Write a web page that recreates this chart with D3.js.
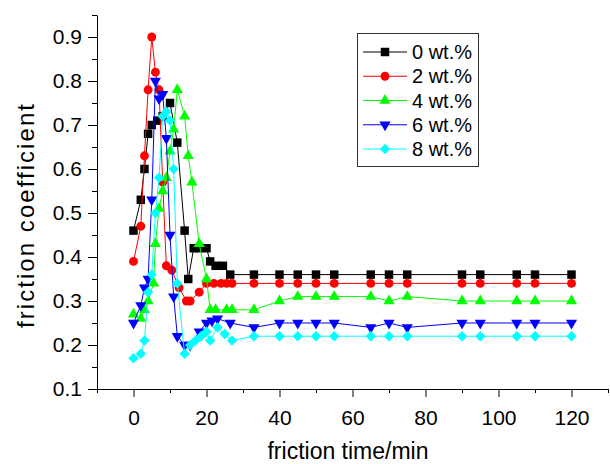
<!DOCTYPE html>
<html>
<head>
<meta charset="utf-8">
<script src="https://cdn.jsdelivr.net/npm/d3@7"></script>
<style>
  body { margin: 0; background: #fff; }
  svg text { font-family: "Liberation Sans", Arial, Helvetica, sans-serif; fill: #000; }
</style>
</head>
<body>
<script>
// values (time in min, friction coefficient)
const time0 = [0, 2, 3, 4, 5, 6.5, 8, 10, 12, 14, 15, 16.5, 18, 20, 21, 22.5, 24.5, 26.5, 33, 40, 45, 50, 55, 65, 70, 75, 90, 95, 105, 110, 120]
const cof0 = [0.46, 0.53, 0.60, 0.68, 0.70, 0.71, 0.72, 0.75, 0.66, 0.46, 0.35, 0.42, 0.42, 0.42, 0.39, 0.38, 0.38, 0.36, 0.36, 0.36, 0.36, 0.36, 0.36, 0.36, 0.36, 0.36, 0.36, 0.36, 0.36, 0.36, 0.36]

const time2 = [0, 2, 3, 4, 5, 6, 7, 8, 9, 10.5, 12.5, 14.5, 15.5, 18, 20, 22, 24, 25.5, 27, 33, 40, 45, 50, 55, 65, 70, 75, 90, 95, 105, 110, 120]
const cof2 = [0.39, 0.47, 0.63, 0.78, 0.90, 0.82, 0.78, 0.57, 0.38, 0.37, 0.33, 0.30, 0.30, 0.32, 0.34, 0.34, 0.34, 0.34, 0.34, 0.34, 0.34, 0.34, 0.34, 0.34, 0.34, 0.34, 0.34, 0.34, 0.34, 0.34, 0.34, 0.34]

const time4 = [0, 2, 3, 4, 5.5, 6, 7, 8, 9, 10, 11, 12, 14, 15, 16, 18, 20, 21, 22.5, 25.5, 27, 33, 40, 45, 50, 55, 65, 70, 75, 90, 95, 105, 110, 120]
const cof4 = [0.27, 0.26, 0.28, 0.30, 0.34, 0.43, 0.51, 0.55, 0.58, 0.64, 0.69, 0.78, 0.72, 0.63, 0.57, 0.43, 0.35, 0.28, 0.28, 0.28, 0.28, 0.28, 0.30, 0.31, 0.31, 0.31, 0.31, 0.30, 0.31, 0.30, 0.30, 0.30, 0.30, 0.30]

const time6 = [0, 2, 3, 4, 5, 6, 7, 8, 9, 10, 11, 12, 14, 15.5, 18, 20, 21.5, 23, 26.5, 33, 40, 45, 50, 55, 65, 70, 75, 90, 95, 105, 110, 120]
const cof6 = [0.25, 0.29, 0.33, 0.35, 0.53, 0.80, 0.76, 0.77, 0.67, 0.45, 0.31, 0.22, 0.20, 0.20, 0.23, 0.25, 0.255, 0.26, 0.25, 0.24, 0.25, 0.25, 0.25, 0.25, 0.24, 0.25, 0.24, 0.25, 0.25, 0.25, 0.25, 0.25]

const time8 = [0, 2, 3, 4, 5, 6, 7, 8, 9, 10, 11, 12, 14, 15.5, 17, 18.5, 20, 21, 23, 25, 27, 33, 40, 45, 50, 55, 65, 70, 75, 90, 95, 105, 110, 120]
const cof8 = [0.17, 0.18, 0.21, 0.32, 0.36, 0.50, 0.58, 0.72, 0.73, 0.71, 0.60, 0.34, 0.18, 0.20, 0.21, 0.22, 0.23, 0.21, 0.24, 0.225, 0.21, 0.22, 0.22, 0.22, 0.22, 0.22, 0.22, 0.22, 0.22, 0.22, 0.22, 0.22, 0.22, 0.22]

const seriesNames = ['0 wt.%', '2 wt.%', '4 wt.%', '6 wt.%', '8 wt.%']
const seriesColors = ['#000000', '#ff0000', '#00ff00', '#0000ff', '#00ffff']

const xMajor = [0, 20, 40, 60, 80, 100, 120]
const xMinor = [-10, 10, 30, 50, 70, 90, 110, 130]
const yMajor = [0.1, 0.2, 0.3, 0.4, 0.5, 0.6, 0.7, 0.8, 0.9]
const yMinor = [0.15, 0.25, 0.35, 0.45, 0.55, 0.65, 0.75, 0.85, 0.95]

const w = 610
const h = 464

const series = [
  { name: seriesNames[0], color: seriesColors[0], shape: 'square', pts: time0.map((t, i) => ({ t, v: cof0[i] })) },
  { name: seriesNames[1], color: seriesColors[1], shape: 'circle', pts: time2.map((t, i) => ({ t, v: cof2[i] })) },
  { name: seriesNames[2], color: seriesColors[2], shape: 'up', pts: time4.map((t, i) => ({ t, v: cof4[i] })) },
  { name: seriesNames[3], color: seriesColors[3], shape: 'down', pts: time6.map((t, i) => ({ t, v: cof6[i] })) },
  { name: seriesNames[4], color: seriesColors[4], shape: 'diamond', pts: time8.map((t, i) => ({ t, v: cof8[i] })) }
]

const svg = d3.select('body').append('svg')
  .attr('width', w)
  .attr('height', h)

const xScale = d3.scaleLinear().domain([-10, 130]).range([97, 608])
const yScale = d3.scaleLinear().domain([0.1, 0.95]).range([389, 15])

// symbol path + rotation for each marker shape
function markerPath (shape) {
  if (shape === 'square') return d3.symbol(d3.symbolSquare, 72)()
  if (shape === 'circle') return d3.symbol(d3.symbolCircle, 62)()
  if (shape === 'diamond') return d3.symbol(d3.symbolSquare, 54)()
  return d3.symbol(d3.symbolTriangle, 54)()
}
function markerRotate (shape) {
  if (shape === 'down') return ' rotate(180)'
  if (shape === 'diamond') return ' rotate(45)'
  return ''
}

// y axis
const yAxis = d3.axisLeft(yScale)
  .tickValues(yMajor)
  .tickFormat(d3.format('.1f'))
  .tickSize(9)
  .tickSizeOuter(0)
  .tickPadding(6)

const gy = svg.append('g')
  .attr('class', 'y-axis')
  .attr('transform', 'translate(' + xScale(-10) + ', 0)')
  .call(yAxis)

gy.selectAll('.minor')
  .data(yMinor)
  .enter().append('line')
  .attr('class', 'minor')
  .attr('x1', -5)
  .attr('x2', 0)
  .attr('y1', d => Math.round(yScale(d)) + 0.5)
  .attr('y2', d => Math.round(yScale(d)) + 0.5)
  .attr('stroke', '#000')

// x axis
const xAxis = d3.axisBottom(xScale)
  .tickValues(xMajor)
  .tickSize(8)
  .tickSizeOuter(0)
  .tickPadding(13)

const gx = svg.append('g')
  .attr('class', 'x-axis')
  .attr('transform', 'translate(0, ' + yScale(0.1) + ')')
  .call(xAxis)

gx.selectAll('.minor')
  .data(xMinor)
  .enter().append('line')
  .attr('class', 'minor')
  .attr('x1', d => Math.round(xScale(d)) + 0.5)
  .attr('x2', d => Math.round(xScale(d)) + 0.5)
  .attr('y1', 0)
  .attr('y2', 4)
  .attr('stroke', '#000')

svg.selectAll('.tick text')
  .attr('font-size', '21px')
  .attr('font-family', '"Liberation Sans", Arial, sans-serif')

// axis titles
svg.append('text')
  .attr('x', 348)
  .attr('y', 459)
  .attr('text-anchor', 'middle')
  .attr('font-size', '23px')
  .text('friction time/min')

svg.append('text')
  .attr('transform', 'translate(34, 216) rotate(-90)')
  .attr('text-anchor', 'middle')
  .attr('font-size', '24px')
  .attr('textLength', 224)
  .attr('lengthAdjust', 'spacing')
  .text('friction coefficient')

// lines + markers
const lineFn = d3.line()
  .x(d => xScale(d.t))
  .y(d => yScale(d.v))
  .curve(d3.curveLinear)

series.forEach(s => {
  svg.append('path')
    .attr('d', lineFn(s.pts))
    .attr('stroke', s.color)
    .attr('stroke-width', 1)
    .attr('fill', 'none')

  svg.append('g')
    .selectAll('path')
    .data(s.pts)
    .enter().append('path')
    .attr('d', markerPath(s.shape))
    .attr('transform', d => 'translate(' + xScale(d.t) + ',' + yScale(d.v) + ')' + markerRotate(s.shape))
    .attr('fill', s.color)
})

// legend
const legend = svg.append('g').attr('class', 'legend')

legend.append('rect')
  .attr('x', 357.5)
  .attr('y', 33.5)
  .attr('width', 121)
  .attr('height', 133)
  .attr('fill', '#fff')
  .attr('stroke', '#333')

const legendY = d3.scalePoint().domain(seriesNames).range([52, 149])

series.forEach(s => {
  const yy = legendY(s.name)
  legend.append('line')
    .attr('x1', 363)
    .attr('x2', 407)
    .attr('y1', yy)
    .attr('y2', yy)
    .attr('stroke', s.color)
  legend.append('path')
    .attr('d', markerPath(s.shape))
    .attr('transform', 'translate(385,' + yy + ')' + markerRotate(s.shape))
    .attr('fill', s.color)
  legend.append('text')
    .attr('x', 412)
    .attr('y', yy)
    .attr('dy', '0.36em')
    .attr('font-size', '20px')
    .text(s.name)
})
</script>
</body>
</html>
